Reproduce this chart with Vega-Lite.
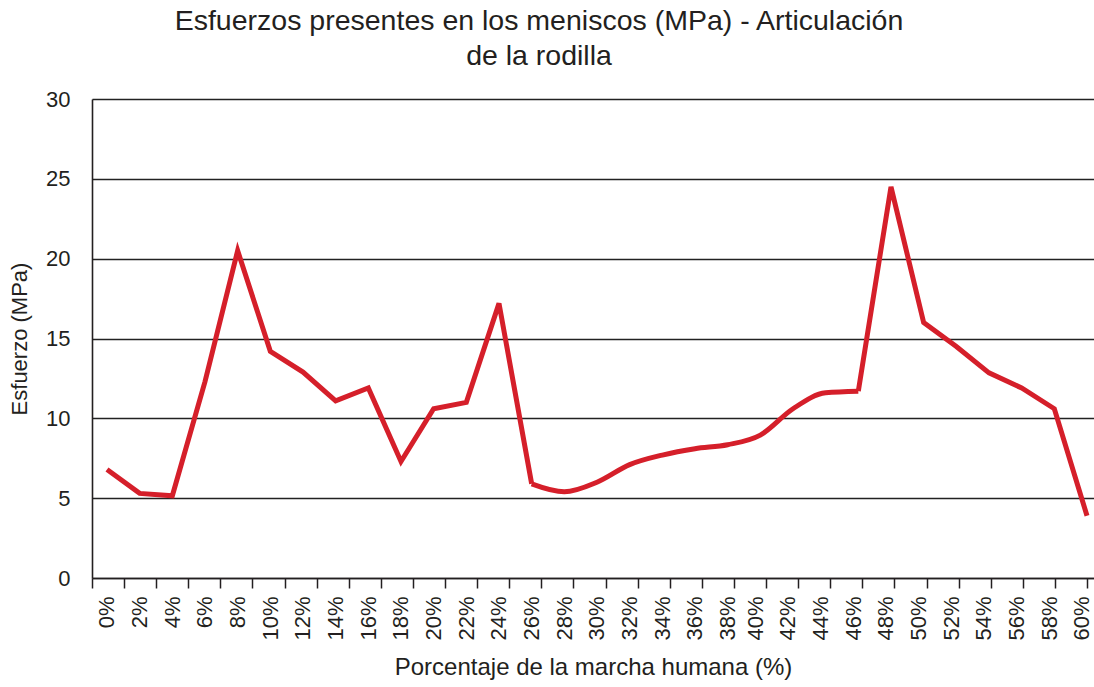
{
  "$schema": "https://vega.github.io/schema/vega-lite/v6.json",
  "width": 1002,
  "height": 479,
  "autosize": {"type": "none"},
  "padding": {"left": 92, "top": 99, "right": 0, "bottom": 109},
  "background": "white",
  "config": {"view": {"stroke": null}, "font": "Liberation Sans"},
  "title": {
    "text": ["Esfuerzos presentes en los meniscos (MPa) - Articulación", "de la rodilla"],
    "fontSize": 28.5,
    "fontWeight": "normal",
    "color": "#231f20",
    "lineHeight": 35,
    "offset": 18,
    "frame": "group",
    "anchor": "middle",
    "dx": -54
  },
  "data": {
    "values": [
      {"pct": 0, "esfuerzo": 6.8},
      {"pct": 2, "esfuerzo": 5.3},
      {"pct": 4, "esfuerzo": 5.15},
      {"pct": 6, "esfuerzo": 12.3},
      {"pct": 8, "esfuerzo": 20.5},
      {"pct": 10, "esfuerzo": 14.2},
      {"pct": 12, "esfuerzo": 12.9},
      {"pct": 14, "esfuerzo": 11.1},
      {"pct": 16, "esfuerzo": 11.9},
      {"pct": 18, "esfuerzo": 7.3},
      {"pct": 20, "esfuerzo": 10.6},
      {"pct": 22, "esfuerzo": 11.0},
      {"pct": 24, "esfuerzo": 17.2},
      {"pct": 26, "esfuerzo": 5.9},
      {"pct": 28, "esfuerzo": 5.4},
      {"pct": 30, "esfuerzo": 6.0},
      {"pct": 32, "esfuerzo": 7.1},
      {"pct": 34, "esfuerzo": 7.7},
      {"pct": 36, "esfuerzo": 8.1},
      {"pct": 38, "esfuerzo": 8.35},
      {"pct": 40, "esfuerzo": 8.95},
      {"pct": 42, "esfuerzo": 10.6},
      {"pct": 44, "esfuerzo": 11.6},
      {"pct": 46, "esfuerzo": 11.7},
      {"pct": 48, "esfuerzo": 24.5},
      {"pct": 50, "esfuerzo": 16.0},
      {"pct": 52, "esfuerzo": 14.5},
      {"pct": 54, "esfuerzo": 12.85},
      {"pct": 56, "esfuerzo": 11.9},
      {"pct": 58, "esfuerzo": 10.6},
      {"pct": 60, "esfuerzo": 3.9}
    ]
  },
  "layer": [
    {
      "mark": {"type": "line", "opacity": 0},
      "encoding": {
        "x": {
          "field": "pct",
          "type": "ordinal",
          "scale": {"type": "band", "paddingInner": 0, "paddingOuter": 0.108, "align": 0},
          "axis": {
            "orient": "bottom",
            "title": null,
            "labels": false,
            "tickBand": "extent",
            "tickSize": 10,
            "tickWidth": 1.5,
            "tickColor": "#231f20",
            "domainColor": "#231f20",
            "domainWidth": 1.5,
            "grid": false
          }
        },
        "y": {
          "field": "esfuerzo",
          "type": "quantitative",
          "scale": {"domain": [0, 30], "nice": false},
          "axis": {
            "title": "Esfuerzo (MPa)",
            "titleFontSize": 22,
            "titleFontWeight": "normal",
            "titleColor": "#231f20",
            "titlePadding": 14,
            "values": [0, 5, 10, 15, 20, 25, 30],
            "labelFontSize": 22,
            "labelColor": "#231f20",
            "labelPadding": 22,
            "ticks": false,
            "grid": true,
            "gridColor": "#222222",
            "gridWidth": 1.6,
            "domainColor": "#231f20",
            "domainWidth": 1.6
          }
        }
      }
    },
    {
      "transform": [{"filter": "datum.pct <= 26"}],
      "mark": {"type": "line", "color": "#d51f2a", "strokeWidth": 5, "strokeJoin": "miter"},
      "encoding": {
        "x": {
          "field": "pct",
          "type": "quantitative",
          "scale": {"domain": [-0.918, 60.429], "nice": false, "zero": false},
          "axis": {
            "orient": "bottom",
            "title": "Porcentaje de la marcha humana (%)",
            "titleFontSize": 24,
            "titleFontWeight": "normal",
            "titleColor": "#231f20",
            "titlePadding": 15,
            "values": [0, 2, 4, 6, 8, 10, 12, 14, 16, 18, 20, 22, 24, 26, 28, 30, 32, 34, 36, 38, 40, 42, 44, 46, 48, 50, 52, 54, 56, 58, 60],
            "labelExpr": "datum.value + '%'",
            "labelAngle": -90,
            "labelAlign": "right",
            "labelBaseline": "middle",
            "labelFontSize": 22,
            "labelColor": "#231f20",
            "labelPadding": 18,
            "labelOffset": {"condition": {"test": "datum.value >= 40", "value": -5}, "value": 0},
            "labelFlush": false,
            "labelOverlap": false,
            "ticks": false,
            "domain": false,
            "grid": false
          }
        },
        "y": {"field": "esfuerzo", "type": "quantitative"}
      }
    },
    {
      "transform": [{"filter": "datum.pct >= 26 && datum.pct <= 46"}],
      "mark": {"type": "line", "color": "#d51f2a", "strokeWidth": 5, "interpolate": "monotone"},
      "encoding": {
        "x": {"field": "pct", "type": "quantitative", "scale": {"domain": [-0.918, 60.429], "nice": false, "zero": false}, "axis": null},
        "y": {"field": "esfuerzo", "type": "quantitative"}
      }
    },
    {
      "transform": [{"filter": "datum.pct >= 46"}],
      "mark": {"type": "line", "color": "#d51f2a", "strokeWidth": 5, "strokeJoin": "miter"},
      "encoding": {
        "x": {"field": "pct", "type": "quantitative", "scale": {"domain": [-0.918, 60.429], "nice": false, "zero": false}, "axis": null},
        "y": {"field": "esfuerzo", "type": "quantitative"}
      }
    }
  ],
  "resolve": {"scale": {"x": "independent"}}
}
